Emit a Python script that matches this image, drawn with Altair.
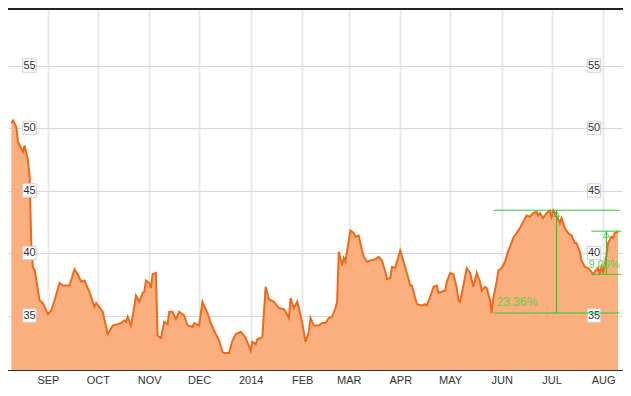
import altair as alt
import pandas as pd

# ---- price series ----
dates = [
    "2013-08-10", "2013-08-11", "2013-08-13", "2013-08-14", "2013-08-17", "2013-08-18",
    "2013-08-20", "2013-08-21", "2013-08-22", "2013-08-23", "2013-08-24", "2013-08-27",
    "2013-08-29",
    "2013-09-01", "2013-09-03", "2013-09-05", "2013-09-08", "2013-09-10", "2013-09-14",
    "2013-09-17", "2013-09-19", "2013-09-21", "2013-09-23", "2013-09-26", "2013-09-29",
    "2013-09-30",
    "2013-10-04", "2013-10-07", "2013-10-10", "2013-10-13", "2013-10-15", "2013-10-17",
    "2013-10-18", "2013-10-19", "2013-10-21", "2013-10-22", "2013-10-24", "2013-10-26",
    "2013-10-28", "2013-10-29", "2013-10-30",
    "2013-11-01", "2013-11-02", "2013-11-03", "2013-11-05", "2013-11-06", "2013-11-08",
    "2013-11-10", "2013-11-12", "2013-11-13", "2013-11-15", "2013-11-17", "2013-11-19",
    "2013-11-22", "2013-11-24", "2013-11-27", "2013-11-28",
    "2013-12-01", "2013-12-03", "2013-12-06", "2013-12-08", "2013-12-10", "2013-12-13",
    "2013-12-15", "2013-12-16", "2013-12-19", "2013-12-21", "2013-12-23", "2013-12-26",
    "2013-12-28", "2013-12-29",
    "2014-01-01", "2014-01-02", "2014-01-04", "2014-01-05", "2014-01-07", "2014-01-08",
    "2014-01-10", "2014-01-12", "2014-01-15", "2014-01-18", "2014-01-21", "2014-01-22",
    "2014-01-24", "2014-01-25", "2014-01-27", "2014-01-29", "2014-01-30",
    "2014-02-01", "2014-02-03", "2014-02-05", "2014-02-06", "2014-02-08", "2014-02-11",
    "2014-02-13", "2014-02-15", "2014-02-17", "2014-02-19", "2014-02-21", "2014-02-22",
    "2014-02-23", "2014-02-25", "2014-02-26", "2014-02-27",
    "2014-03-02", "2014-03-04", "2014-03-05", "2014-03-07", "2014-03-09", "2014-03-10",
    "2014-03-12", "2014-03-14", "2014-03-17", "2014-03-19", "2014-03-21", "2014-03-23",
    "2014-03-24", "2014-03-26", "2014-03-27", "2014-03-29", "2014-03-30",
    "2014-04-01", "2014-04-03", "2014-04-05", "2014-04-07", "2014-04-08", "2014-04-10",
    "2014-04-11", "2014-04-14", "2014-04-16", "2014-04-17", "2014-04-19", "2014-04-21",
    "2014-04-23", "2014-04-24", "2014-04-26", "2014-04-28", "2014-04-29",
    "2014-05-01", "2014-05-03", "2014-05-05", "2014-05-06", "2014-05-07", "2014-05-09",
    "2014-05-11", "2014-05-13", "2014-05-15", "2014-05-17", "2014-05-19", "2014-05-20",
    "2014-05-22", "2014-05-23", "2014-05-25", "2014-05-26", "2014-05-27", "2014-05-29",
    "2014-05-30",
    "2014-06-01", "2014-06-03", "2014-06-05", "2014-06-06", "2014-06-08", "2014-06-10",
    "2014-06-12", "2014-06-14", "2014-06-16", "2014-06-18", "2014-06-20", "2014-06-22",
    "2014-06-23", "2014-06-24", "2014-06-26", "2014-06-28", "2014-06-30",
    "2014-07-01", "2014-07-02", "2014-07-04", "2014-07-06", "2014-07-07", "2014-07-09",
    "2014-07-11", "2014-07-13", "2014-07-15", "2014-07-16", "2014-07-18", "2014-07-19",
    "2014-07-21", "2014-07-23", "2014-07-25", "2014-07-26", "2014-07-27", "2014-07-29",
    "2014-07-30", "2014-07-31",
    "2014-08-01", "2014-08-03", "2014-08-04", "2014-08-06", "2014-08-07", "2014-08-08",
    "2014-08-10",
]
prices = [
    50.4, 50.6, 50.1, 48.9, 48.1, 48.6, 47.4, 46.1, 40.8, 38.8, 38.7, 36.2, 36.0,
    35.1, 35.4, 36.2, 37.6, 37.4, 37.4, 38.7, 38.3, 37.7, 37.8, 36.9, 35.7, 36.0,
    35.3, 33.5, 34.2, 34.3, 34.4, 34.6, 34.5, 34.9, 34.2, 34.9, 36.6, 36.1, 36.8, 36.9, 37.8,
    37.6, 37.2, 38.3, 38.4, 33.4, 33.2, 34.5, 34.3, 35.3, 35.3, 34.7, 35.3, 35.0, 34.2, 34.1, 34.4,
    34.2, 36.1, 35.2, 34.4, 33.8, 33.0, 32.1, 32.0, 32.0, 33.0, 33.5, 33.7, 33.4, 33.2,
    32.2, 32.9, 32.7, 33.1, 33.2, 33.3, 37.3, 36.3, 36.1, 35.6, 35.5, 35.3, 34.8, 36.4, 35.6, 36.1, 35.6,
    34.4, 32.9, 33.7, 34.8, 34.2, 34.2, 34.4, 34.4, 34.8, 34.9, 35.6, 36.1, 40.1, 39.0, 39.6, 39.3,
    41.8, 41.6, 41.3, 41.4, 40.2, 39.7, 39.3, 39.4, 39.5, 39.7, 39.4, 38.5, 37.9, 38.0, 38.9, 38.8, 39.3,
    40.2, 39.3, 38.4, 37.4, 37.4, 36.4, 35.9, 35.8, 35.9, 35.8, 36.5, 37.3, 37.4, 36.8, 36.9, 37.0, 37.7,
    38.4, 38.3, 37.2, 36.2, 36.1, 37.4, 38.8, 38.4, 37.3, 38.4, 37.7, 37.0, 37.3, 37.2, 36.2, 35.2,
    36.4, 37.7, 38.6,
    38.8, 39.3, 40.2, 40.5, 41.2, 41.6, 42.0, 42.5, 43.0, 42.9, 43.2, 43.3, 43.0, 43.2, 42.8, 43.2, 43.4,
    42.9, 43.4, 43.0, 42.4, 42.8, 42.0, 41.6, 41.4, 40.8, 40.8, 40.1, 39.4, 38.9, 38.8, 38.5, 38.3,
    38.5, 38.8, 38.4, 38.9,
    38.4, 39.8, 40.8, 41.3, 41.2, 41.6, 41.7,
]

# ---- axes ----
month_ticks = ["2013-09-01", "2013-10-01", "2013-11-01", "2013-12-01", "2014-01-01",
               "2014-02-01", "2014-03-01", "2014-04-01", "2014-05-01", "2014-06-01",
               "2014-07-01", "2014-08-01"]
grid_levels = [35, 40, 45, 50, 55]
x_domain = ["2013-08-08", "2014-08-13"]
y_domain = [30.64, 59.6]

# ---- measurement annotations ----
meas_start = ["2014-05-27", "2014-07-25"]
meas_end = ["2014-08-11", "2014-08-12"]
meas_low = [35.2, 38.3]
meas_high = [43.42, 41.75]
meas_vdate = ["2014-07-04", "2014-08-03"]
gain1_text, gain1_date, gain1_value = "23.36%", "2014-05-29", 36.1
gain2_text, gain2_date, gain2_value = "9.00%", "2014-08-11", 39.05

FONT = "Liberation Sans"
GREEN = "#2fc82f"
TEXT_GREEN = "#5ed24a"
W, H = 615, 362


def dt(s):
    y, m, d = (int(p) for p in s.split("-"))
    return alt.DateTime(year=y, month=m, date=d)


price_df = pd.DataFrame({"date": pd.to_datetime(dates), "price": prices})
level_df = pd.DataFrame({"level": grid_levels, "label": [str(v) for v in grid_levels]})
h_df = pd.DataFrame({
    "start": pd.to_datetime(meas_start * 2),
    "end": pd.to_datetime(meas_end * 2),
    "level": meas_low + meas_high,
})
v_df = pd.DataFrame({
    "date": pd.to_datetime(meas_vdate),
    "low": meas_low,
    "high": meas_high,
})
t1_df = pd.DataFrame({"date": pd.to_datetime([gain1_date]), "value": [gain1_value], "text": [gain1_text]})
t2_df = pd.DataFrame({"date": pd.to_datetime([gain2_date]), "value": [gain2_value], "text": [gain2_text]})

x_scale = alt.Scale(domain=[dt(x_domain[0]), dt(x_domain[1])])
y_scale = alt.Scale(domain=y_domain, nice=False, zero=False)

x_axis = alt.Axis(
    title=None, values=[dt(s) for s in month_ticks],
    labelExpr="month(datum.value) == 0 ? timeFormat(datum.value, '%Y') : upper(timeFormat(datum.value, '%b'))",
    grid=True, gridColor="#e9e9e9", gridWidth=2, ticks=False, domain=False,
    labelColor="#333333", labelFont=FONT, labelFontSize=11, labelPadding=4,
    labelFlush=False, labelOverlap=False,
)
y_axis = alt.Axis(
    title=None, values=grid_levels, labels=False, ticks=False, domain=False,
    grid=True, gridColor="#d9d9d9", gridWidth=1,
)


def X(field):
    return alt.X(field, type="temporal", scale=x_scale, axis=x_axis)


def Y(field):
    return alt.Y(field, type="quantitative", scale=y_scale, axis=y_axis)


base = alt.Chart(price_df)
area = base.mark_area(color="#fbae7e", opacity=1, clip=True).encode(x=X("date"), y=Y("price"))
line = base.mark_line(color="#ec6a1c", strokeWidth=2).encode(x=X("date"), y=Y("price"))

boxes_left = alt.Chart(level_df).mark_square(
    size=180, fill="white", stroke="#cfcfcf", strokeWidth=1, opacity=1
).encode(x=alt.value(21.5), y=Y("level"))
labels_left = alt.Chart(level_df).mark_text(
    font=FONT, fontSize=11, color="#333333", align="center", baseline="middle"
).encode(x=alt.value(21.5), y=Y("level"), text="label:N")
boxes_right = alt.Chart(level_df).mark_square(
    size=180, fill="white", stroke="#cfcfcf", strokeWidth=1, opacity=1
).encode(x=alt.value(586), y=Y("level"))
labels_right = alt.Chart(level_df).mark_text(
    font=FONT, fontSize=11, color="#333333", align="center", baseline="middle"
).encode(x=alt.value(586), y=Y("level"), text="label:N")

h_rules = alt.Chart(h_df).mark_rule(color=GREEN, strokeWidth=1).encode(
    x=X("start"), x2="end", y=Y("level"))
v_rules = alt.Chart(v_df).mark_rule(color=GREEN, strokeWidth=1.2).encode(
    x=X("date"), y=Y("low"), y2="high")
arrows = alt.Chart(v_df).mark_point(
    shape="triangle-up", filled=False, color=GREEN, size=40, strokeWidth=1, yOffset=3.5
).encode(x=X("date"), y=Y("high"))
text1 = alt.Chart(t1_df).mark_text(
    font=FONT, fontSize=12, color=TEXT_GREEN, align="left", baseline="middle"
).encode(x=X("date"), y=Y("value"), text="text:N")
text2 = alt.Chart(t2_df).mark_text(
    font=FONT, fontSize=11, color=TEXT_GREEN, align="right", baseline="middle"
).encode(x=X("date"), y=Y("value"), text="text:N")

top_line = alt.Chart(level_df).mark_rule(color="#222222", strokeWidth=1.5).encode(
    y=alt.value(0.75))
bottom_line = alt.Chart(level_df).mark_rule(color="#333333", strokeWidth=1).encode(
    y=alt.value(H + 0.5))

chart = alt.layer(
    area, line, boxes_left, labels_left, boxes_right, labels_right,
    h_rules, v_rules, arrows, text1, text2, top_line, bottom_line,
).properties(
    width=W, height=H,
    autosize=alt.AutoSizeParams(type="none"),
    padding={"left": 0, "top": 0, "right": 0, "bottom": 15},
    background="white",
).configure_view(stroke=None)

chart.save("out.html", embed_options={"renderer": "svg", "actions": False})
